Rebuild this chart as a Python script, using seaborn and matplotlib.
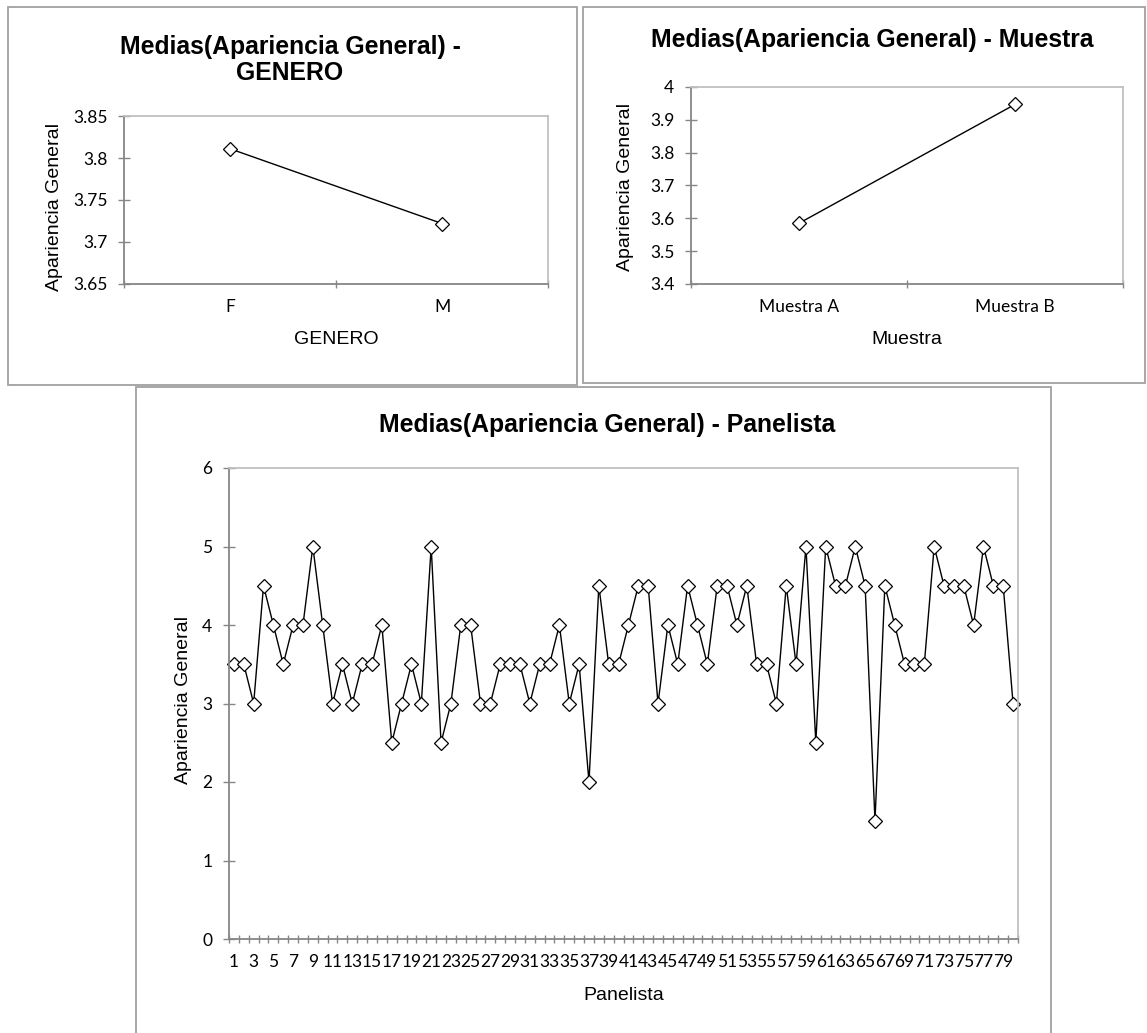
import matplotlib
matplotlib.use("Agg")
import matplotlib.pyplot as plt
from matplotlib.patches import Rectangle
from matplotlib.ticker import FixedLocator, FormatStrFormatter
import numpy as np
import seaborn as sns

# %% data
genero = ["F", "M"]
genero_media = [3.811, 3.722]

muestra = ["Muestra A", "Muestra B"]
muestra_media = [3.585, 3.947]

panelistas = [str(i) for i in range(1, 81)]
panelista_media = [
    3.5, 3.5, 3.0, 4.5, 4.0, 3.5, 4.0, 4.0, 5.0, 4.0,
    3.0, 3.5, 3.0, 3.5, 3.5, 4.0, 2.5, 3.0, 3.5, 3.0,
    5.0, 2.5, 3.0, 4.0, 4.0, 3.0, 3.0, 3.5, 3.5, 3.5,
    3.0, 3.5, 3.5, 4.0, 3.0, 3.5, 2.0, 4.5, 3.5, 3.5,
    4.0, 4.5, 4.5, 3.0, 4.0, 3.5, 4.5, 4.0, 3.5, 4.5,
    4.5, 4.0, 4.5, 3.5, 3.5, 3.0, 4.5, 3.5, 5.0, 2.5,
    5.0, 4.5, 4.5, 5.0, 4.5, 1.5, 4.5, 4.0, 3.5, 3.5,
    3.5, 5.0, 4.5, 4.5, 4.5, 4.0, 5.0, 4.5, 4.5, 3.0,
]

# %% style
sns.set_style("white")
plt.rcParams["font.family"] = ["Liberation Sans", "DejaVu Sans"]
plt.rcParams["text.color"] = "black"
plt.rcParams["axes.labelcolor"] = "black"

W, H = 1147, 1033
fig = plt.figure(figsize=(W / 100, H / 100), dpi=100)

AXIS_GRAY = "#868686"
BORDER_GRAY = "#c0c0c0"
FRAME_GRAY = "#a0a0a0"


def px_rect(x0, y0, x1, y1):
    # pixel box (top-left origin) -> figure fraction [left, bottom, w, h]
    return [x0 / W, 1 - y1 / H, (x1 - x0) / W, (y1 - y0) / H]


def frame(x0, y0, x1, y1):
    fig.add_artist(Rectangle((x0 / W, 1 - y1 / H), (x1 - x0) / W, (y1 - y0) / H,
                             transform=fig.transFigure, fill=False,
                             edgecolor=FRAME_GRAY, linewidth=1.3))


def means_plot(ax, cats, vals, ylim, ystep, yfmt, every=1):
    pos = np.arange(1, len(cats) + 1)
    sns.lineplot(x=pos, y=vals, ax=ax, color="black", linewidth=1.0,
                 marker="D", markersize=7.6, markerfacecolor="white",
                 markeredgecolor="black", markeredgewidth=0.9)
    ax.set_xlim(0.5, len(cats) + 0.5)
    ax.set_ylim(*ylim)
    ax.set_yticks(np.arange(ylim[0], ylim[1] + ystep / 2, ystep))
    ax.yaxis.set_major_formatter(FormatStrFormatter(yfmt))
    ax.set_xticks(pos[::every])
    ax.set_xticklabels(cats[::every])
    ax.xaxis.set_minor_locator(FixedLocator(np.arange(0.5, len(cats) + 1, 1)))
    ax.tick_params(axis="x", which="major", bottom=True, length=0, pad=11,
                   labelcolor="black")
    ax.tick_params(axis="x", which="minor", bottom=True, direction="inout",
                   length=5.5, width=1, color=AXIS_GRAY)
    ax.tick_params(axis="y", which="major", left=True, direction="inout",
                   length=8, width=1, color=AXIS_GRAY, pad=8,
                   labelcolor="black")
    for lab in ax.get_xticklabels() + ax.get_yticklabels():
        lab.set_fontfamily("Lato")
        lab.set_fontsize(12.5)
    for side in ["left", "bottom"]:
        ax.spines[side].set_color(AXIS_GRAY)
        ax.spines[side].set_linewidth(1.3)
    for side in ["top", "right"]:
        ax.spines[side].set_color(BORDER_GRAY)
        ax.spines[side].set_linewidth(1.3)
    for ln in ax.lines:
        ln.set_clip_on(False)


# %% panel frames
frame(8, 7, 577, 385)
frame(583, 7, 1145, 383)
frame(136, 387, 1051, 1050)

# %% GENERO
ax1 = fig.add_axes(px_rect(124, 116, 548, 284))
means_plot(ax1, genero, genero_media, (3.65, 3.85), 0.05, "%g")
ax1.set_xlabel("GENERO", fontsize=14, va="center")
ax1.xaxis.set_label_coords(0.5, -0.333)
ax1.set_ylabel("Apariencia General", fontsize=14, va="center")
ax1.yaxis.set_label_coords(-0.165, 0.46)
fig.text(290 / W, 1 - 60 / H, "Medias(Apariencia General) -\nGENERO",
         ha="center", va="center", fontsize=17.8, fontweight="bold",
         linespacing=1.1)

# %% Muestra
ax2 = fig.add_axes(px_rect(691, 87, 1123, 284))
means_plot(ax2, muestra, muestra_media, (3.4, 4.0), 0.1, "%g")
ax2.set_xlabel("Muestra", fontsize=14, va="center")
ax2.xaxis.set_label_coords(0.5, -0.284)
ax2.set_ylabel("Apariencia General", fontsize=14, va="center")
ax2.yaxis.set_label_coords(-0.152, 0.49)
fig.text(872 / W, 1 - 40 / H, "Medias(Apariencia General) - Muestra",
         ha="center", va="center", fontsize=17.8, fontweight="bold")

# %% Panelista
ax3 = fig.add_axes(px_rect(229, 468, 1018, 939))
means_plot(ax3, panelistas, panelista_media, (0, 6), 1, "%g", every=2)
ax3.set_xlabel("Panelista", fontsize=14, va="center")
ax3.xaxis.set_label_coords(0.5, -0.121)
ax3.set_ylabel("Apariencia General", fontsize=14, va="center")
ax3.yaxis.set_label_coords(-0.058, 0.507)
fig.text(607 / W, 1 - 425 / H, "Medias(Apariencia General) - Panelista",
         ha="center", va="center", fontsize=17.8, fontweight="bold")

fig.savefig("out.png", dpi=100)
